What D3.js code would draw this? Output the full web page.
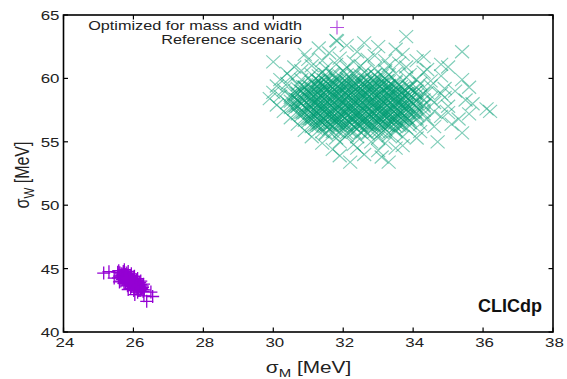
<!DOCTYPE html>
<html>
<head>
<meta charset="utf-8">
<script src="https://cdn.jsdelivr.net/npm/d3@7"></script>
<style>
  body { margin: 0; background: #fff; }
  text { font-family: "Liberation Sans", Arial, sans-serif; }
</style>
</head>
<body>
<script>
// sigma_M, sigma_W pairs [MeV]
const optimized = [
  [25.58,44.84],[25.55,44.72],[25.61,44.68],
  [25.71,44.78],[25.65,44.59],[25.60,44.40],
  [25.75,44.68],[25.72,44.56],[25.68,44.43],[25.65,44.31],
  [25.81,44.65],[25.78,44.53],[25.75,44.40],[25.71,44.27],[25.68,44.15],
  [25.84,44.50],[25.81,44.37],[25.77,44.24],[25.74,44.12],
  [25.91,44.46],[25.87,44.34],[25.84,44.21],[25.80,44.09],[25.77,43.96],
  [25.93,44.31],[25.90,44.18],[25.87,44.05],[25.83,43.93],
  [26.01,44.34],[25.97,44.18],[25.93,44.02],[25.89,43.86],[25.84,43.71],
  [26.03,44.12],[25.99,43.99],[25.96,43.87],[25.92,43.74],
  [26.09,44.09],[26.05,43.96],[26.02,43.83],[25.99,43.71],[25.95,43.58],
  [26.12,43.93],[26.08,43.80],[26.05,43.68],[26.01,43.55],
  [26.18,43.90],[26.15,43.77],[26.11,43.64],[26.08,43.52],[26.04,43.39],
  [26.21,43.74],[26.17,43.61],[26.14,43.49],[26.11,43.36],
  [26.25,43.64],[26.20,43.45],[26.15,43.27],
  [26.25,43.36],[26.31,43.33],[26.28,43.20],
  [26.03,44.40],[25.83,43.64],[25.94,44.59],[25.73,43.83],[26.12,44.21],[25.92,43.45],
  [26.21,44.02],[26.01,43.27],[25.85,44.78],[25.64,44.02],[26.29,43.77],[26.12,43.14],
  [25.74,44.91],[25.57,44.27],
  [25.68,44.51],[25.71,44.63],[25.64,44.42],[25.77,44.35],[25.80,44.48],[25.73,44.23],
  [25.86,44.16],[25.89,44.29],[25.83,44.04],[25.95,43.97],[25.99,44.10],[25.92,43.84],
  [26.04,43.79],[26.08,43.91],[26.01,43.66],[26.13,43.60],[26.17,43.73],[26.10,43.47],
  [26.23,43.41],[26.26,43.53],[26.19,43.28],
  [25.15,44.65],[25.30,44.75],[25.45,44.25],[25.60,43.95],[25.85,43.35],
  [26.04,42.95],[26.38,42.42],[26.55,42.80],[26.50,43.15],[26.30,42.85]
];

const reference = [
  [33.8,63.3],
  [31.8,63.0],[32.6,62.8],
  [31.3,62.4],[32.1,62.6],[33.0,62.5],[33.5,62.3],[35.4,62.1],
  [30.9,61.9],[31.6,62.0],[32.4,62.1],[32.9,61.8],[33.7,61.9],[34.3,61.7],
  [30.0,61.3],[31.0,61.5],[31.4,61.4],[31.9,61.6],[32.3,61.3],[32.7,61.5],[33.2,61.4],[33.6,61.2],[34.1,61.4],[34.8,61.1],[35.0,60.9],
  [30.6,60.9],[31.1,61.0],[31.5,60.8],[31.8,61.1],[32.1,60.9],[32.5,61.0],[32.9,60.8],[33.3,61.0],[33.8,60.9],[34.4,60.7],
  [30.4,60.4],[30.8,60.6],[31.1,60.3],[31.4,60.5],[31.7,60.4],[32.0,60.6],[32.3,60.4],[32.6,60.5],[32.9,60.3],[33.2,60.6],[33.5,60.4],[33.9,60.3],[34.3,60.5],[34.8,60.2],
  [30.2,59.9],[30.5,60.1],[30.8,59.9],[31.0,60.0],[31.3,59.8],[31.5,60.1],[31.8,59.9],[32.1,60.0],[32.4,59.8],[32.6,60.1],[32.9,59.9],[33.2,60.0],[33.5,59.8],[33.8,60.1],[34.1,59.9],[34.5,59.8],[35.4,59.9],
  [30.1,59.4],[30.4,59.6],[30.7,59.5],[30.9,59.3],[31.2,59.6],[31.4,59.4],[31.6,59.5],[31.9,59.3],[32.1,59.6],[32.3,59.4],[32.6,59.5],[32.8,59.3],[33.1,59.6],[33.3,59.4],[33.6,59.5],[33.9,59.3],[34.2,59.6],[34.5,59.4],[34.9,59.2],[35.6,59.3],
  [30.0,58.9],[30.3,59.1],[30.6,58.8],[30.8,59.0],[31.0,58.9],[31.2,59.1],[31.4,58.8],[31.6,59.0],[31.8,58.9],[32.0,59.1],[32.2,58.8],[32.4,59.0],[32.6,58.9],[32.8,59.1],[33.0,58.8],[33.2,59.0],[33.4,58.9],[33.6,59.1],[33.8,58.8],[34.1,59.0],[34.4,58.9],[34.8,58.8],[35.2,59.0],
  [29.9,58.4],[30.2,58.6],[30.5,58.5],[30.7,58.3],[30.9,58.6],[31.1,58.4],[31.3,58.5],[31.5,58.3],[31.7,58.6],[31.9,58.4],[32.1,58.5],[32.3,58.3],[32.5,58.6],[32.7,58.4],[32.9,58.5],[33.1,58.3],[33.3,58.6],[33.5,58.4],[33.7,58.5],[33.9,58.3],[34.2,58.6],[34.5,58.4],[34.9,58.5],[35.5,58.3],
  [30.1,57.9],[30.4,58.1],[30.6,57.8],[30.8,58.0],[31.0,57.9],[31.2,58.1],[31.4,57.8],[31.6,58.0],[31.8,57.9],[32.0,58.1],[32.2,57.8],[32.4,58.0],[32.6,57.9],[32.8,58.1],[33.0,57.8],[33.2,58.0],[33.4,57.9],[33.6,58.1],[33.8,57.8],[34.0,58.0],[34.3,57.9],[34.6,58.1],[35.0,57.8],[35.7,58.0],
  [30.3,57.4],[30.6,57.6],[30.8,57.3],[31.0,57.5],[31.2,57.4],[31.4,57.6],[31.6,57.3],[31.8,57.5],[32.0,57.4],[32.2,57.6],[32.4,57.3],[32.6,57.5],[32.8,57.4],[33.0,57.6],[33.2,57.3],[33.4,57.5],[33.6,57.4],[33.8,57.6],[34.0,57.3],[34.3,57.5],[34.6,57.4],[35.0,57.3],[35.6,57.2],[36.1,57.6],[36.2,57.4],
  [30.5,56.9],[30.8,57.1],[31.0,56.8],[31.2,57.0],[31.4,56.9],[31.6,57.1],[31.8,56.8],[32.0,57.0],[32.2,56.9],[32.4,57.1],[32.6,56.8],[32.8,57.0],[33.0,56.9],[33.2,57.1],[33.4,56.8],[33.6,57.0],[33.8,56.9],[34.1,57.1],[34.4,56.8],[34.8,57.0],[35.3,56.8],
  [30.7,56.4],[31.0,56.6],[31.2,56.3],[31.4,56.5],[31.6,56.4],[31.8,56.6],[32.0,56.3],[32.2,56.5],[32.4,56.4],[32.6,56.6],[32.8,56.3],[33.0,56.5],[33.2,56.4],[33.4,56.6],[33.6,56.3],[33.9,56.5],[34.2,56.4],[34.6,56.2],[35.1,56.4],
  [30.9,55.9],[31.2,56.1],[31.4,55.8],[31.6,56.0],[31.8,55.9],[32.0,56.1],[32.2,55.8],[32.4,56.0],[32.6,55.9],[32.8,56.1],[33.0,55.8],[33.2,56.0],[33.5,55.9],[33.8,56.1],[34.2,55.8],[35.4,55.7],
  [31.1,55.4],[31.5,55.6],[31.8,55.3],[32.1,55.5],[32.4,55.4],[32.7,55.6],[33.0,55.3],[33.3,55.5],[33.7,55.4],[34.1,55.3],[34.7,55.0],
  [31.4,54.9],[31.9,55.0],[32.3,54.8],[32.8,55.0],[33.2,54.9],[33.7,54.7],
  [31.7,54.4],[32.4,54.5],[33.0,54.3],[33.5,54.5],
  [31.9,53.9],[32.6,54.0],[33.1,53.8],
  [32.2,53.4],[33.3,53.4],
  // dense core
  [31.3,60.2],[31.5,60.3],[31.7,60.25],[31.9,60.2],[32.1,60.3],[32.3,60.25],[32.5,60.2],[32.7,60.3],[32.9,60.25],[33.1,60.2],[33.3,60.3],
  [31.1,59.7],[31.3,59.8],[31.5,59.75],[31.7,59.7],[31.9,59.8],[32.1,59.75],[32.3,59.7],[32.5,59.8],[32.7,59.75],[32.9,59.7],[33.1,59.8],[33.3,59.75],[33.5,59.7],
  [30.7,59.2],[30.9,59.3],[31.1,59.25],[31.3,59.2],[31.5,59.3],[31.7,59.25],[31.9,59.2],[32.1,59.3],[32.3,59.25],[32.5,59.2],[32.7,59.3],[32.9,59.25],[33.1,59.2],[33.3,59.3],[33.5,59.25],[33.7,59.2],[33.9,59.3],[34.1,59.25],
  [30.5,58.7],[30.7,58.8],[30.9,58.75],[31.1,58.7],[31.3,58.8],[31.5,58.75],[31.7,58.7],[31.9,58.8],[32.1,58.75],[32.3,58.7],[32.5,58.8],[32.7,58.75],[32.9,58.7],[33.1,58.8],[33.3,58.75],[33.5,58.7],[33.7,58.8],[33.9,58.75],[34.1,58.7],[34.3,58.8],
  [30.5,58.2],[30.7,58.3],[30.9,58.25],[31.1,58.2],[31.3,58.3],[31.5,58.25],[31.7,58.2],[31.9,58.3],[32.1,58.25],[32.3,58.2],[32.5,58.3],[32.7,58.25],[32.9,58.2],[33.1,58.3],[33.3,58.25],[33.5,58.2],[33.7,58.3],[33.9,58.25],[34.1,58.2],[34.3,58.3],
  [30.5,57.7],[30.7,57.8],[30.9,57.75],[31.1,57.7],[31.3,57.8],[31.5,57.75],[31.7,57.7],[31.9,57.8],[32.1,57.75],[32.3,57.7],[32.5,57.8],[32.7,57.75],[32.9,57.7],[33.1,57.8],[33.3,57.75],[33.5,57.7],[33.7,57.8],[33.9,57.75],[34.1,57.7],[34.3,57.8],
  [30.7,57.2],[30.9,57.3],[31.1,57.25],[31.3,57.2],[31.5,57.3],[31.7,57.25],[31.9,57.2],[32.1,57.3],[32.3,57.25],[32.5,57.2],[32.7,57.3],[32.9,57.25],[33.1,57.2],[33.3,57.3],[33.5,57.25],[33.7,57.2],[33.9,57.3],[34.1,57.25],[34.3,57.2],
  [30.9,56.7],[31.1,56.8],[31.3,56.75],[31.5,56.7],[31.7,56.8],[31.9,56.75],[32.1,56.7],[32.3,56.8],[32.5,56.75],[32.7,56.7],[32.9,56.8],[33.1,56.75],[33.3,56.7],[33.5,56.8],[33.7,56.75],[33.9,56.7],[34.1,56.8],
  [31.1,56.2],[31.3,56.3],[31.5,56.25],[31.7,56.2],[31.9,56.3],[32.1,56.25],[32.3,56.2],[32.5,56.3],[32.7,56.25],[32.9,56.2],[33.1,56.3],[33.3,56.25],[33.5,56.2],[33.7,56.3],[33.9,56.25],
  [31.5,55.7],[31.7,55.8],[31.9,55.75],[32.1,55.7],[32.3,55.8],[32.5,55.75],[32.7,55.7],[32.9,55.8],[33.1,55.75],[33.3,55.7],[33.5,55.8],
  [31.3,59.5],[31.5,59.45],[31.7,59.55],[31.9,59.5],[32.1,59.45],[32.3,59.55],[32.5,59.5],[32.7,59.45],[32.9,59.55],[33.1,59.5],[33.3,59.45],
  [31.1,59.0],[31.3,58.95],[31.5,59.05],[31.7,59.0],[31.9,58.95],[32.1,59.05],[32.3,59.0],[32.5,58.95],[32.7,59.05],[32.9,59.0],[33.1,58.95],[33.3,59.05],[33.5,59.0],[33.7,58.95],
  [31.1,58.5],[31.3,58.45],[31.5,58.55],[31.7,58.5],[31.9,58.45],[32.1,58.55],[32.3,58.5],[32.5,58.45],[32.7,58.55],[32.9,58.5],[33.1,58.45],[33.3,58.55],[33.5,58.5],[33.7,58.45],
  [31.1,58.0],[31.3,57.95],[31.5,58.05],[31.7,58.0],[31.9,57.95],[32.1,58.05],[32.3,58.0],[32.5,57.95],[32.7,58.05],[32.9,58.0],[33.1,57.95],[33.3,58.05],[33.5,58.0],[33.7,57.95],
  [31.1,57.5],[31.3,57.45],[31.5,57.55],[31.7,57.5],[31.9,57.45],[32.1,57.55],[32.3,57.5],[32.5,57.45],[32.7,57.55],[32.9,57.5],[33.1,57.45],[33.3,57.55],[33.5,57.5],[33.7,57.45],
  [31.1,57.0],[31.3,56.95],[31.5,57.05],[31.7,57.0],[31.9,56.95],[32.1,57.05],[32.3,57.0],[32.5,56.95],[32.7,57.05],[32.9,57.0],[33.1,56.95],[33.3,57.05],[33.5,57.0],[33.7,56.95],
  [31.3,56.5],[31.5,56.45],[31.7,56.55],[31.9,56.5],[32.1,56.45],[32.3,56.55],[32.5,56.5],[32.7,56.45],[32.9,56.55],[33.1,56.5],[33.3,56.45],[33.5,56.55],
  [31.25,59.85],[31.45,59.88],[31.65,59.83],[31.85,59.86],[32.05,59.84],[32.25,59.87],[32.45,59.82],[32.65,59.86],[32.85,59.85],[33.05,59.88],[33.25,59.83],
  [30.85,59.35],[31.05,59.33],[31.25,59.38],[31.45,59.34],[31.65,59.36],[31.85,59.33],[32.05,59.37],[32.25,59.35],[32.45,59.32],[32.65,59.37],[32.85,59.34],[33.05,59.36],[33.25,59.33],[33.45,59.38],[33.65,59.35],[33.85,59.32],
  [30.65,58.85],[30.85,58.88],[31.05,58.83],[31.25,58.86],[31.45,58.84],[31.65,58.87],[31.85,58.82],[32.05,58.86],[32.25,58.85],[32.45,58.88],[32.65,58.83],[32.85,58.86],[33.05,58.84],[33.25,58.87],[33.45,58.82],[33.65,58.86],[33.85,58.85],[34.05,58.88],
  [30.65,58.35],[30.85,58.33],[31.05,58.38],[31.25,58.34],[31.45,58.36],[31.65,58.33],[31.85,58.37],[32.05,58.35],[32.25,58.32],[32.45,58.37],[32.65,58.34],[32.85,58.36],[33.05,58.33],[33.25,58.38],[33.45,58.35],[33.65,58.32],[33.85,58.37],[34.05,58.34],
  [30.65,57.85],[30.85,57.88],[31.05,57.83],[31.25,57.86],[31.45,57.84],[31.65,57.87],[31.85,57.82],[32.05,57.86],[32.25,57.85],[32.45,57.88],[32.65,57.83],[32.85,57.86],[33.05,57.84],[33.25,57.87],[33.45,57.82],[33.65,57.86],[33.85,57.85],[34.05,57.88],
  [30.85,57.35],[31.05,57.33],[31.25,57.38],[31.45,57.34],[31.65,57.36],[31.85,57.33],[32.05,57.37],[32.25,57.35],[32.45,57.32],[32.65,57.37],[32.85,57.34],[33.05,57.36],[33.25,57.33],[33.45,57.38],[33.65,57.35],[33.85,57.32],[34.05,57.37],
  [31.05,56.85],[31.25,56.88],[31.45,56.83],[31.65,56.86],[31.85,56.84],[32.05,56.87],[32.25,56.82],[32.45,56.86],[32.65,56.85],[32.85,56.88],[33.05,56.83],[33.25,56.86],[33.45,56.84],[33.65,56.87],[33.85,56.82],
  [31.25,56.35],[31.45,56.33],[31.65,56.38],[31.85,56.34],[32.05,56.36],[32.25,56.33],[32.45,56.37],[32.65,56.35],[32.85,56.32],[33.05,56.37],[33.25,56.34],[33.45,56.36],[33.65,56.33]
];

const xTicks = [24, 26, 28, 30, 32, 34, 36, 38];
const yTicks = [40, 45, 50, 55, 60, 65];
const seriesNames = ['Optimized for mass and width', 'Reference scenario'];

const W = 567, H = 379;
const m = {left: 63.5, right: 14, top: 15, bottom: 47};
const sx = 1.3; // the picture is stretched sideways

const x = d3.scaleLinear().domain([24, 38]).range([m.left, W - m.right]);
const y = d3.scaleLinear().domain([40, 65]).range([H - m.bottom, m.top]);

const svg = d3.select('body').append('svg')
    .attr('width', W)
    .attr('height', H);

const purple = '#9400d3', green = '#009e73';
const plusPath = 'M-6.5,0H6.5M0,-6.5V6.5';
const crossPath = 'M-7,-6.5L7,6.5M-7,6.5L7,-6.5';

// points
svg.append('g')
    .selectAll('path')
    .data(reference)
    .enter().append('path')
    .attr('d', crossPath)
    .attr('transform', d => `translate(${x(d[0])},${y(d[1])})`)
    .attr('fill', 'none')
    .attr('stroke', green)
    .attr('stroke-opacity', 0.5)
    .attr('stroke-width', 1.15);

svg.append('g')
    .selectAll('path')
    .data(optimized)
    .enter().append('path')
    .attr('d', plusPath)
    .attr('transform', d => `translate(${x(d[0])},${y(d[1])})`)
    .attr('fill', 'none')
    .attr('stroke', purple)
    .attr('stroke-opacity', 1)
    .attr('stroke-width', 1.3);

// frame with inward ticks on all four sides
const tickLen = 4.5;
const axisG = svg.append('g').attr('stroke', '#000').attr('stroke-width', 1.2);
xTicks.forEach(t => {
    axisG.append('line').attr('x1', x(t)).attr('x2', x(t)).attr('y1', y(40)).attr('y2', y(40) - tickLen);
    axisG.append('line').attr('x1', x(t)).attr('x2', x(t)).attr('y1', y(65)).attr('y2', y(65) + tickLen);
});
yTicks.forEach(t => {
    axisG.append('line').attr('x1', x(24)).attr('x2', x(24) + tickLen).attr('y1', y(t)).attr('y2', y(t));
    axisG.append('line').attr('x1', x(38)).attr('x2', x(38) - tickLen).attr('y1', y(t)).attr('y2', y(t));
});
svg.append('rect')
    .attr('x', x(24)).attr('y', y(65))
    .attr('width', x(38) - x(24)).attr('height', y(40) - y(65))
    .attr('fill', 'none').attr('stroke', '#000').attr('stroke-width', 1.6);

// tick labels
svg.append('g').selectAll('text')
    .data(xTicks)
    .enter().append('text')
    .attr('transform', d => `translate(${x(d) + 1.5},${y(40) + 15}) scale(${sx},1)`)
    .attr('text-anchor', 'middle')
    .attr('font-size', 13)
    .attr('fill', '#222')
    .text(d => d);

svg.append('g').selectAll('text')
    .data(yTicks)
    .enter().append('text')
    .attr('transform', d => `translate(${x(24) - 4},${y(d) + 5}) scale(${sx},1)`)
    .attr('text-anchor', 'end')
    .attr('font-size', 13)
    .attr('fill', '#222')
    .text(d => d);

// axis titles
const xt = svg.append('text')
    .attr('transform', `translate(308.5,${H - 6}) scale(${sx},1)`)
    .attr('text-anchor', 'middle')
    .attr('font-size', 16)
    .attr('fill', '#222');
xt.append('tspan').text('σ');
xt.append('tspan').attr('font-size', 11.5).attr('dy', 4).text('M');
xt.append('tspan').attr('dy', -4).text(' [MeV]');

const yt = svg.append('text')
    .attr('transform', `translate(29,175) scale(${sx},1) rotate(-90)`)
    .attr('text-anchor', 'middle')
    .attr('font-size', 16)
    .attr('fill', '#222');
yt.append('tspan').text('σ');
yt.append('tspan').attr('font-size', 11.5).attr('dy', 4).text('W');
yt.append('tspan').attr('dy', -4).text(' [MeV]');

// legend
const legend = svg.append('g');
seriesNames.forEach((name, i) => {
    const ly = 26 + i * 13.5;
    legend.append('text')
        .attr('transform', `translate(302,${ly + 4.3}) scale(${sx},1)`)
        .attr('text-anchor', 'end')
        .attr('font-size', 12.5)
        .attr('fill', '#222')
        .text(name);
    legend.append('path')
        .attr('d', i === 0 ? 'M-7,0H7M0,-7V7' : crossPath)
        .attr('transform', `translate(337,${ly + 1.5})`)
        .attr('fill', 'none')
        .attr('stroke', i === 0 ? purple : green)
        .attr('stroke-opacity', i === 0 ? 0.7 : 0.5)
        .attr('stroke-width', 1.15);
});

// experiment tag
svg.append('text')
    .attr('x', 542).attr('y', 312)
    .attr('text-anchor', 'end')
    .attr('font-family', '"Open Sans", sans-serif')
    .attr('font-weight', 'bold')
    .attr('font-size', 18)
    .attr('fill', '#111')
    .text('CLICdp');
</script>
</body>
</html>
